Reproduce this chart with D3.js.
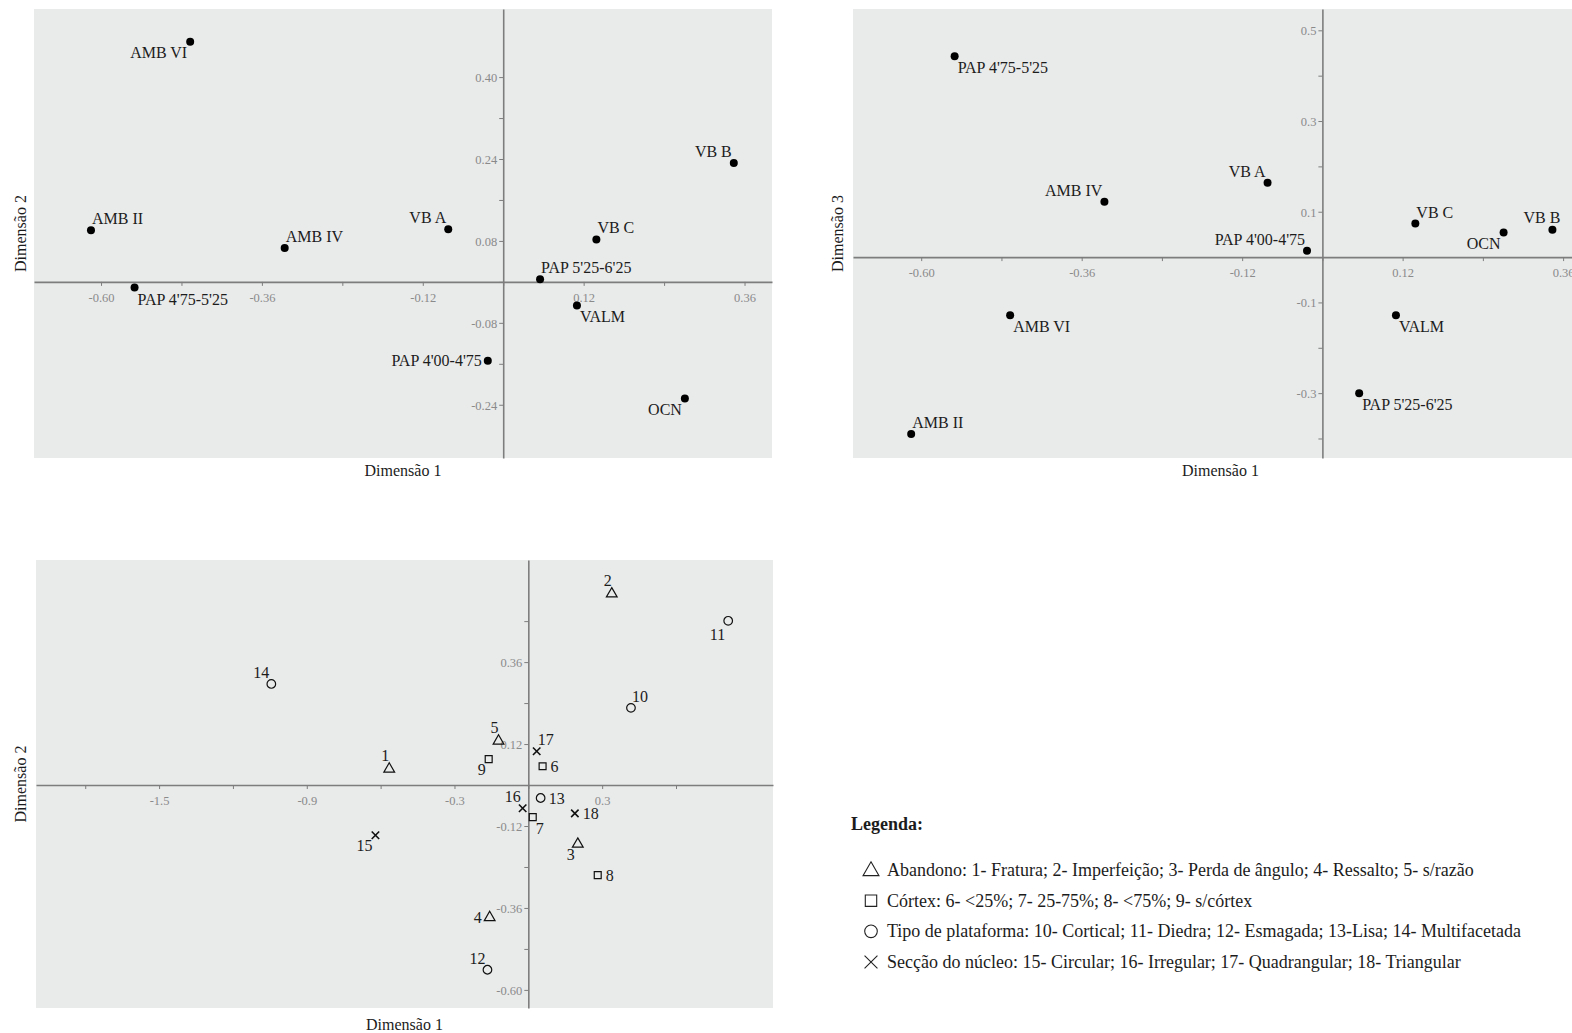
<!DOCTYPE html>
<html><head><meta charset="utf-8">
<script src="https://cdn.jsdelivr.net/npm/d3@7"></script>
<style>
html,body{margin:0;padding:0;background:#fff;}
svg{display:block;font-family:"Liberation Serif","Times New Roman",serif;}
</style></head>
<body>
<svg id="chart" width="1572" height="1033"></svg>
<script>
// ---------- DATA ----------
const sites = ["AMB VI","AMB II","PAP 4'75-5'25","AMB IV","VB A","VB C","VB B","PAP 5'25-6'25","VALM","PAP 4'00-4'75","OCN"];
const siteDim1 = [-0.467,-0.615,-0.550,-0.326,-0.082,0.139,0.344,0.055,0.110,-0.023,0.271];
const siteDim2 = [0.469,0.101,-0.011,0.066,0.103,0.083,0.232,0.005,-0.046,-0.154,-0.228];
const siteDim3 = [-0.128,-0.390,0.443,0.122,0.164,0.074,0.060,-0.300,-0.128,0.014,0.054];
const placeP1 = ["sw","ne","se","ne","nw","ne","nw","ne","se","w","sw"];
const placeP2 = ["se","ne","se","nw","nw","ne","nx","se","se","nw","sw"];

const cats = ["1","2","3","4","5","6","7","8","9","10","11","12","13","14","15","16","17","18"];
const catGroup = ["tri","tri","tri","tri","tri","sq","sq","sq","sq","circ","circ","circ","circ","circ","x","x","x","x"];
const catDim1 = [-0.565,0.339,0.201,-0.157,-0.121,0.058,0.018,0.282,-0.161,0.417,0.812,-0.166,0.050,-1.044,-0.621,-0.023,0.034,0.189];
const catDim2 = [0.047,0.560,-0.173,-0.388,0.129,0.055,-0.094,-0.264,0.076,0.226,0.481,-0.541,-0.038,0.296,-0.147,-0.068,0.099,-0.083];
const placeP3 = ["n","n","sw","w8","n","e","se","e","sw","ne","sw2","nw","e","nw","sw","nw","ne","e"];

const p1XTicks = [-0.60,-0.48,-0.36,-0.24,-0.12,0,0.12,0.24,0.36];
const p1XLabels = [-0.60,-0.36,-0.12,0.12,0.36];
const p1YTicks = [-0.24,-0.16,-0.08,0,0.08,0.16,0.24,0.32,0.40];
const p1YLabels = [-0.24,-0.08,0.08,0.24,0.40];
const p2XTicks = [-0.60,-0.48,-0.36,-0.24,-0.12,0,0.12,0.24,0.36];
const p2XLabels = [-0.60,-0.36,-0.12,0.12,0.36];
const p2YTicks = [-0.4,-0.3,-0.2,-0.1,0,0.1,0.2,0.3,0.4,0.5];
const p2YLabels = [-0.3,-0.1,0.1,0.3,0.5];
const p3XTicks = [-1.8,-1.5,-1.2,-0.9,-0.6,-0.3,0,0.3,0.6];
const p3XLabels = [-1.5,-0.9,-0.3,0.3];
const p3YTicks = [-0.60,-0.48,-0.36,-0.24,-0.12,0,0.12,0.24,0.36,0.48];
const p3YLabels = [-0.60,-0.36,-0.12,0.12,0.36];

const legendTitle = "Legenda:";
const legendGroups = ["tri","sq","circ","x"];
const legendTexts = [
 "Abandono: 1- Fratura; 2- Imperfeição; 3- Perda de ângulo; 4- Ressalto; 5- s/razão",
 "Córtex: 6- <25%; 7- 25-75%; 8- <75%; 9- s/córtex",
 "Tipo de plataforma: 10- Cortical; 11- Diedra; 12- Esmagada; 13-Lisa; 14- Multifacetada",
 "Secção do núcleo: 15- Circular; 16- Irregular; 17- Quadrangular; 18- Triangular"
];

// ---------- DRAW ----------
const svg = d3.select("#chart");
const BG = "#e9eaea", AX = "#7d7d7d", TICKTXT = "#8a8a8a", TXT = "#1c1c1c";
const offs = {
  ne:{a:"start",dx:1,dy:-6}, nw:{a:"end",dx:-2,dy:-6}, se:{a:"start",dx:3,dy:17},
  sw:{a:"end",dx:-3,dy:16}, sw2:{a:"end",dx:-3,dy:19}, w:{a:"end",dx:-6,dy:5}, w8:{a:"end",dx:-8,dy:5},
  e:{a:"start",dx:8,dy:6}, n:{a:"middle",dx:-4,dy:-8}, nx:{a:"end",dx:8,dy:-7}
};

function panel(o){
  const g = svg.append("g");
  const x = d3.scaleLinear().domain(o.xd).range([o.x0,o.x1]);
  const y = d3.scaleLinear().domain(o.yd).range([o.y1,o.y0]);
  g.append("rect").attr("x",o.x0).attr("y",o.y0).attr("width",o.x1-o.x0).attr("height",o.y1-o.y0).attr("fill",BG);
  const fmt = (labels,dec)=> d => labels.some(l=>Math.abs(l-d)<1e-9) ? d.toFixed(dec) : "";
  const xa = g.append("g").attr("transform",`translate(0,${y(0)})`)
    .call(d3.axisBottom(x).tickValues(o.xt).tickSize(4).tickSizeOuter(0).tickPadding(5).tickFormat(fmt(o.xl,o.xdec)));
  const ya = g.append("g").attr("transform",`translate(${x(0)},0)`)
    .call(d3.axisLeft(y).tickValues(o.yt).tickSize(4).tickSizeOuter(0).tickPadding(2).tickFormat(fmt(o.yl,o.ydec)));
  [xa,ya].forEach(a=>{
    a.select(".domain").attr("stroke",AX).attr("stroke-width",1.6);
    a.selectAll(".tick line").attr("stroke",AX).attr("stroke-width",1);
    a.selectAll(".tick text").attr("fill",TICKTXT).attr("font-size",12.5).attr("font-family","Liberation Serif");
  });
  xa.selectAll(".tick text").attr("dy","0.9em");
  ya.selectAll(".tick text").attr("dy","0.35em");
  g.append("text").attr("x",(o.x0+o.x1t)/2).attr("y",o.y1+o.tOff).attr("text-anchor","middle")
    .attr("font-size",16).attr("fill",TXT).text(o.xTitle);
  g.append("text").attr("transform",`translate(${o.yTitleX},${(o.y0+o.y1)/2}) rotate(-90)`)
    .attr("text-anchor","middle").attr("font-size",16).attr("fill",TXT).text(o.yTitle);
  return {g,x,y};
}

// Panel 1
const P1 = panel({x0:34,x1:772,x1t:772,y0:9,y1:458,xd:[-0.700,0.401],yd:[-0.344,0.533],tOff:18,
  xt:p1XTicks,xl:p1XLabels,xdec:2,yt:p1YTicks,yl:p1YLabels,ydec:2,xTitle:"Dimensão 1",yTitle:"Dimensão 2",yTitleX:26});
// Panel 2
const P2 = panel({x0:853,x1:1600,x1t:1588,y0:9,y1:458,xd:[-0.702,(1600-1322.5)/668.4],yd:[-0.443,0.547],tOff:18,
  xt:p2XTicks,xl:p2XLabels,xdec:2,yt:p2YTicks,yl:p2YLabels,ydec:1,xTitle:"Dimensão 1",yTitle:"Dimensão 3",yTitleX:843});
// Panel 3
const P3 = panel({x0:36,x1:773,x1t:773,y0:560,y1:1008,xd:[-2.0,0.994],yd:[-0.653,0.659],tOff:22,
  xt:p3XTicks,xl:p3XLabels,xdec:1,yt:p3YTicks,yl:p3YLabels,ydec:2,xTitle:"Dimensão 1",yTitle:"Dimensão 2",yTitleX:26});

function sitePoints(P, xs, ys, place){
  const d = sites.map((n,i)=>({n,x:xs[i],y:ys[i],p:offs[place[i]]}));
  P.g.selectAll("circle.pt").data(d).join("circle").attr("class","pt")
    .attr("cx",d=>P.x(d.x)).attr("cy",d=>P.y(d.y)).attr("r",4).attr("fill","#000");
  P.g.selectAll("text.lb").data(d).join("text").attr("class","lb")
    .attr("x",d=>P.x(d.x)+d.p.dx).attr("y",d=>P.y(d.y)+d.p.dy).attr("text-anchor",d=>d.p.a)
    .attr("font-size",16).attr("fill",TXT).text(d=>d.n);
}
sitePoints(P1, siteDim1, siteDim2, placeP1);
sitePoints(P2, siteDim1, siteDim3, placeP2);

const symType = {tri:d3.symbolTriangle, sq:d3.symbolSquare, circ:d3.symbolCircle, x:d3.symbolX};
const symSize = {tri:50, sq:48, circ:58, x:38};
const d3pts = cats.map((c,i)=>({c,g:catGroup[i],x:catDim1[i],y:catDim2[i],p:offs[placeP3[i]]}));
P3.g.selectAll("path.sym").data(d3pts).join("path").attr("class","sym")
  .attr("transform",d=>`translate(${P3.x(d.x)},${P3.y(d.y)})`)
  .attr("d",d=>d3.symbol(symType[d.g], symSize[d.g])())
  .attr("fill","none").attr("stroke","#111").attr("stroke-width",d=>d.g==="x"?1.6:1.2);
P3.g.selectAll("text.lb").data(d3pts).join("text").attr("class","lb")
  .attr("x",d=>P3.x(d.x)+d.p.dx).attr("y",d=>P3.y(d.y)+d.p.dy).attr("text-anchor",d=>d.p.a)
  .attr("font-size",16).attr("fill",TXT).text(d=>d.c);

// Legend
const L = svg.append("g");
L.append("text").attr("x",851).attr("y",830).attr("font-size",18).attr("font-weight","bold").attr("fill",TXT).text(legendTitle);
const legSize = {tri:110, sq:130, circ:125, x:110};
const ly = d3.scalePoint().domain(legendGroups).range([870,962]);
L.selectAll("path").data(legendGroups).join("path")
  .attr("transform",d=>`translate(871,${ly(d)+(d==="tri"?1:0)})`)
  .attr("d",d=>d3.symbol(symType[d], legSize[d])())
  .attr("fill","none").attr("stroke","#222").attr("stroke-width",1.1);
L.selectAll("text.li").data(legendGroups).join("text").attr("class","li")
  .attr("x",887).attr("y",d=>ly(d)+6).attr("font-size",18).attr("fill",TXT)
  .text((d,i)=>legendTexts[i]);
</script>
</body></html>
